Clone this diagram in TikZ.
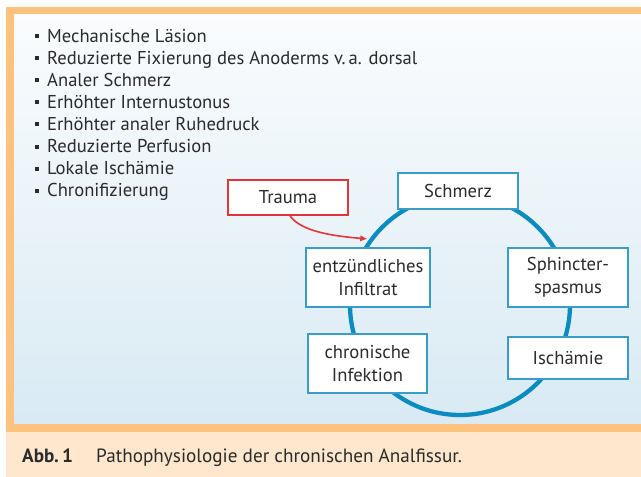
\documentclass[tikz,border=0pt]{standalone}
\usepackage{fontspec}
\setmainfont{PT Sans}
\usetikzlibrary{arrows.meta}

\definecolor{frameorange}{HTML}{FDC27E}
\definecolor{captionpeach}{HTML}{FEE7CD}
\definecolor{paneltop}{HTML}{FAFCFD}
\definecolor{panelbottom}{HTML}{D9EAF4}
\definecolor{ringblue}{HTML}{0A8CBF}
\definecolor{boxblue}{HTML}{3A9DC8}
\definecolor{traumared}{HTML}{E5333B}
\definecolor{textgray}{HTML}{2B2B2B}

\tikzset{
  txt/.style={font=\fontsize{18.6}{23}\selectfont, text=textgray},
  captxt/.style={font=\fontsize{19.2}{23}\selectfont, text=textgray, inner sep=0pt, anchor=base west},
  item/.style={txt, inner sep=0pt, anchor=base west},
  stage/.style={txt, draw=boxblue, line width=1.2pt, fill=white, align=center,
    inner sep=0pt, minimum width=120pt},
}

\begin{document}
\begin{tikzpicture}[x=1pt,y=-1pt]
\useasboundingbox (0,0) rectangle (641,477);
\fill[captionpeach] (6,7) rectangle (641,477);
\fill[frameorange] (6,7) rectangle (641,432);
\shade[top color=paneltop,bottom color=panelbottom] (14,14) rectangle (641,423);

\foreach \t [count=\i] in {Mechanische Läsion, Reduzierte Fixierung des Anoderms v.\,a. dorsal,
  Analer Schmerz, Erhöhter Internustonus, Erhöhter analer Ruhedruck,
  Reduzierte Perfusion, Lokale Ischämie, Chronifizierung}
{
  \node[item] (l\i) at (47,{19.9+22.1*\i}) {\t};
  \fill[textgray] ([shift={(-12,-8)}]l\i.base west) rectangle ++(4,4);
}

\node[circle, draw=ringblue, line width=4.3pt, inner sep=0pt, minimum size=220pt] (ring) at (460,305) {};

\node[stage, minimum height=36pt] (schmerz) at (458,191) {Schmerz};
\node[stage, minimum width=124pt, minimum height=59pt] (infiltrat) at (368,277.5) {entzündliches\\Infiltrat};
\node[stage, minimum height=59pt] (spasmus) at (568,277.5) {Sphincter-\\spasmus};
\node[stage, minimum width=119pt, minimum height=59pt] (infektion) at (367.5,363.5) {chronische\\Infektion};
\node[stage, minimum height=42pt] (ischaemie) at (568,358) {Ischämie};
\node[stage, draw=traumared, line width=2pt, minimum height=35pt] (trauma) at (288,197.5) {Trauma};

\draw[traumared, line width=1.6pt, -{Latex[length=7pt,width=6.5pt]}, shorten >=2pt]
  ([xshift=2pt]trauma.south) .. controls +(12,16) and +(-35,-3) .. (ring.144);

\node[captxt] (abb) at (22,462) {\textbf{Abb.\,1}};
\node[captxt] (caption) at (96,462) {Pathophysiologie der chronischen Analfissur.};
\end{tikzpicture}
\end{document}
